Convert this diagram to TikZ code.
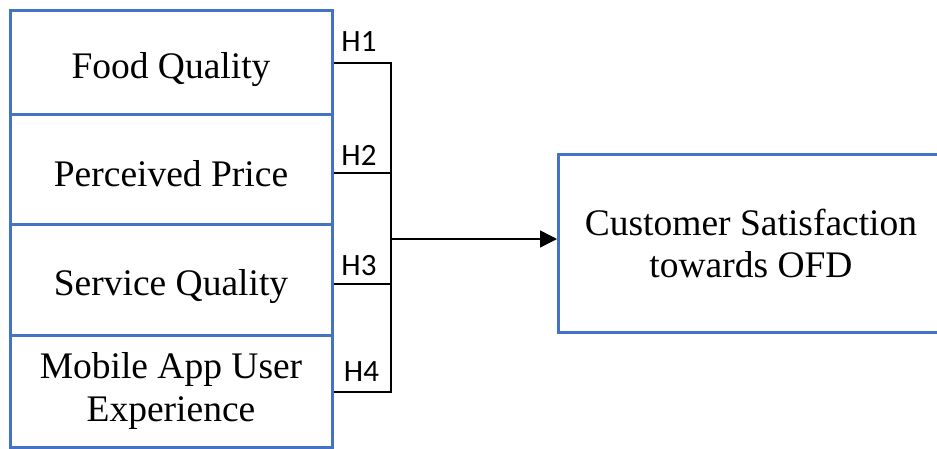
\documentclass[tikz,border=0pt]{standalone}
\usepackage{fontspec}
\setmainfont{Liberation Serif}
\newfontfamily\hfont{Carlito}
\usetikzlibrary{arrows.meta}
\definecolor{boxblue}{HTML}{4472C4}
\newcommand{\lowertext}[2]{\raisebox{-#1}[\height][\depth]{#2}}
\begin{document}
\begin{tikzpicture}[x=1pt,y=-1pt,
  varbox/.style={draw=boxblue,line width=3pt,minimum width=322pt,inner sep=0pt,align=center,font=\fontsize{37.5}{43}\selectfont},
  hlab/.style={font=\hfont\fontsize{31}{33}\selectfont,inner sep=0pt},
  conn/.style={draw=black,line width=2pt}]
\useasboundingbox (0,0) rectangle (937,448);
\begin{scope}
\clip (0,0) rectangle (937,448);
\node[varbox,minimum height=104pt] (fq) at (171,62) {\lowertext{8pt}{Food Quality}};
\node[varbox,minimum height=110pt] (pp) at (171,169) {\lowertext{5pt}{Perceived Price}};
\node[varbox,minimum height=111pt] (sq) at (171,279.5) {\lowertext{7pt}{Service Quality}};
\node[varbox,minimum height=112pt] (ma) at (171,391) {Mobile App User\\Experience};
\node[draw=boxblue,line width=3pt,minimum width=385pt,minimum height=178pt,align=center,font=\fontsize{37.5}{42}\selectfont,anchor=west] (cs) at (557,243) {Customer Satisfaction\\towards OFD};
\end{scope}
\coordinate (c1) at (391,63);
\coordinate (c2) at (391,173);
\coordinate (c3) at (391,284);
\coordinate (c4) at (391,392);
\coordinate (jm) at (391,239);
\draw[conn] (fq.east |- c1) -- (c1);
\draw[conn] (pp.east |- c2) -- (c2);
\draw[conn] (sq.east |- c3) -- (c3);
\draw[conn] (ma.east |- c4) -- (c4);
\draw[conn,line cap=rect] (c1) -- (c4);
\draw[black,line width=1.5pt,-{Triangle[length=17pt,width=17pt]}] (jm) -- (cs.west |- jm);
\node[hlab] (h1) at (359,41.5) {H1};
\node[hlab] (h2) at (359,155) {H2};
\node[hlab] (h3) at (359,266) {H3};
\node[hlab] (h4) at (361.5,372) {H4};
\end{tikzpicture}
\end{document}
